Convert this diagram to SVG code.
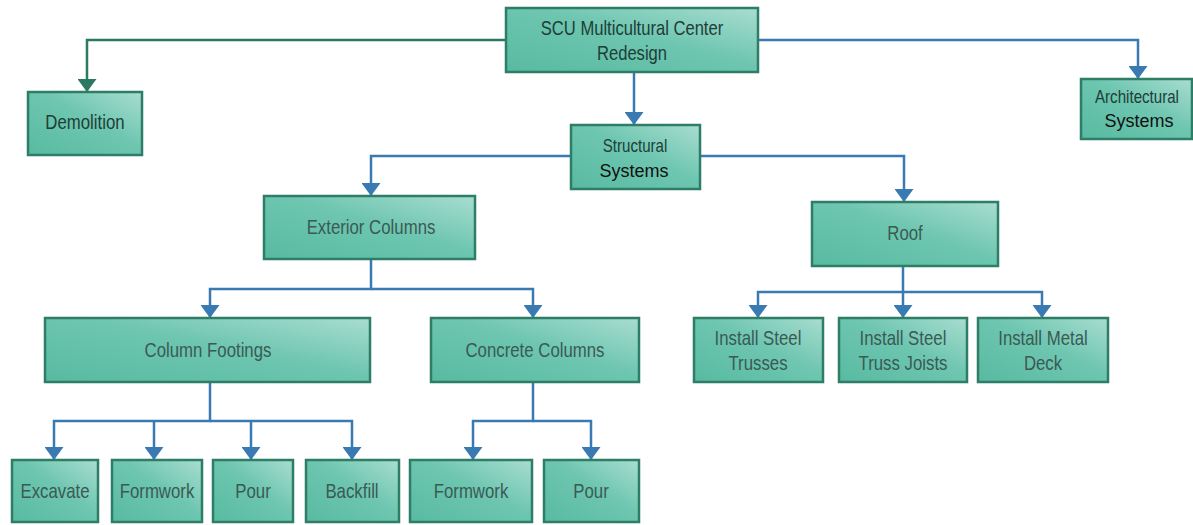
<svg xmlns="http://www.w3.org/2000/svg" width="1193" height="525" viewBox="0 0 1193 525">
<defs>
<linearGradient id="g" x1="0" y1="1" x2="1" y2="0">
<stop offset="0" stop-color="#58baa1"/>
<stop offset="0.55" stop-color="#6ec6b0"/>
<stop offset="1" stop-color="#a9ddd1"/>
</linearGradient>
<marker id="ab" markerUnits="userSpaceOnUse" markerWidth="13" markerHeight="19" viewBox="0 0 13 19" refX="13" refY="9.5" orient="auto">
<path d="M0,0 L13,9.5 L0,19 z" fill="#3a7ab3"/>
</marker>
<marker id="ag" markerUnits="userSpaceOnUse" markerWidth="13" markerHeight="19" viewBox="0 0 13 19" refX="13" refY="9.5" orient="auto">
<path d="M0,0 L13,9.5 L0,19 z" fill="#2a7a63"/>
</marker>
</defs>
<style>
.box{fill:url(#g);stroke:#2d7d67;stroke-width:2.5}
.t{font-family:"Liberation Sans",Arial,sans-serif;font-size:20px;fill:#3a5a54;text-anchor:middle}
.d{fill:#1e3e37}
.s{font-size:18px}
.n{font-size:18px;fill:#111}
.c{fill:none;stroke:#3a7ab3;stroke-width:2.5}
.cg{fill:none;stroke:#2a7a63;stroke-width:2.5}
</style>
<rect width="1193" height="525" fill="#fff"/>
<g id="connectors">
<path class="cg" d="M506,40 H87 V92" marker-end="url(#ag)"/>
<path class="c" d="M758,40 H1138 V79" marker-end="url(#ab)"/>
<path class="c" d="M634,72 V125" marker-end="url(#ab)"/>
<path class="c" d="M571,156 H371 V196" marker-end="url(#ab)"/>
<path class="c" d="M700,156 H904 V202" marker-end="url(#ab)"/>
<path class="c" d="M371,259 V289 H210 V318" marker-end="url(#ab)"/>
<path class="c" d="M371,289 H533 V318" marker-end="url(#ab)"/>
<path class="c" d="M903,266 V292 H758 V318" marker-end="url(#ab)"/>
<path class="c" d="M903,292 V318" marker-end="url(#ab)"/>
<path class="c" d="M903,292 H1042 V318" marker-end="url(#ab)"/>
<path class="c" d="M210,382 V421 H54 V460" marker-end="url(#ab)"/>
<path class="c" d="M154,421 V460" marker-end="url(#ab)"/>
<path class="c" d="M251,421 V460" marker-end="url(#ab)"/>
<path class="c" d="M210,421 H352 V460" marker-end="url(#ab)"/>
<path class="c" d="M533,382 V421 H473 V460" marker-end="url(#ab)"/>
<path class="c" d="M533,421 H591 V460" marker-end="url(#ab)"/>
</g>
<g id="root"><rect class="box" x="506" y="8" width="252" height="64"/>
<text class="t d" transform="translate(632 35) scale(0.83 1)">SCU Multicultural Center</text><text class="t d" transform="translate(632 60) scale(0.83 1)">Redesign</text></g>
<g id="demolition"><rect class="box" x="28" y="92" width="114" height="63"/>
<text class="t d" transform="translate(85 129) scale(0.84 1)">Demolition</text></g>
<g id="architectural"><rect class="box" x="1081" y="79" width="111" height="60"/>
<text class="t s d" transform="translate(1137 103) scale(0.84 1)">Architectural</text><text class="t n" x="1139" y="127">Systems</text></g>
<g id="structural"><rect class="box" x="571" y="125" width="129" height="64"/>
<text class="t s d" transform="translate(635 152) scale(0.84 1)">Structural</text><text class="t n" x="634" y="177">Systems</text></g>
<g id="exterior"><rect class="box" x="264" y="196" width="211" height="63"/>
<text class="t" transform="translate(371 234) scale(0.84 1)">Exterior Columns</text></g>
<g id="roof"><rect class="box" x="812" y="202" width="186" height="64"/>
<text class="t" transform="translate(905 240) scale(0.84 1)">Roof</text></g>
<g id="footings"><rect class="box" x="45" y="318" width="325" height="64"/>
<text class="t" transform="translate(208 357) scale(0.84 1)">Column Footings</text></g>
<g id="concrete"><rect class="box" x="431" y="318" width="208" height="64"/>
<text class="t" transform="translate(535 357) scale(0.84 1)">Concrete Columns</text></g>
<g id="trusses"><rect class="box" x="694" y="318" width="129" height="64"/>
<text class="t" transform="translate(758 345) scale(0.84 1)">Install Steel</text><text class="t" transform="translate(758 370) scale(0.84 1)">Trusses</text></g>
<g id="joists"><rect class="box" x="839" y="318" width="128" height="64"/>
<text class="t" transform="translate(903 345) scale(0.84 1)">Install Steel</text><text class="t" transform="translate(903 370) scale(0.84 1)">Truss Joists</text></g>
<g id="deck"><rect class="box" x="978" y="318" width="130" height="64"/>
<text class="t" transform="translate(1043 345) scale(0.84 1)">Install Metal</text><text class="t" transform="translate(1043 370) scale(0.84 1)">Deck</text></g>
<g id="excavate"><rect class="box" x="12" y="460" width="86" height="62"/>
<text class="t" transform="translate(55 498) scale(0.84 1)">Excavate</text></g>
<g id="formwork1"><rect class="box" x="112" y="460" width="90" height="62"/>
<text class="t" transform="translate(157 498) scale(0.84 1)">Formwork</text></g>
<g id="pour1"><rect class="box" x="213" y="460" width="80" height="62"/>
<text class="t" transform="translate(253 498) scale(0.84 1)">Pour</text></g>
<g id="backfill"><rect class="box" x="306" y="460" width="93" height="62"/>
<text class="t" transform="translate(352 498) scale(0.84 1)">Backfill</text></g>
<g id="formwork2"><rect class="box" x="410" y="460" width="122" height="62"/>
<text class="t" transform="translate(471 498) scale(0.84 1)">Formwork</text></g>
<g id="pour2"><rect class="box" x="544" y="460" width="95" height="62"/>
<text class="t" transform="translate(591 498) scale(0.84 1)">Pour</text></g>
</svg>
